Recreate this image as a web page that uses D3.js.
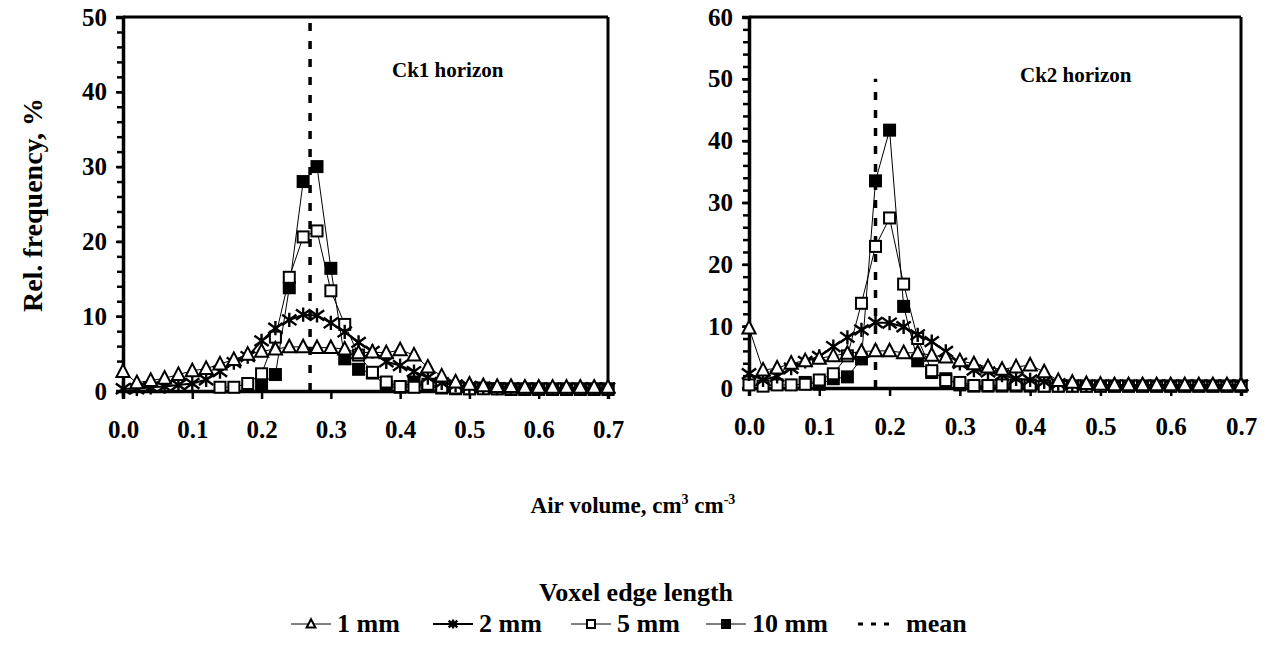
<!DOCTYPE html>
<html>
<head>
<meta charset="utf-8">
<script src="https://cdn.jsdelivr.net/npm/d3@7"></script>
<style>
  body { margin: 0; background: #fff; }
  svg text { font-family: "Liberation Serif", "Times New Roman", serif; font-weight: bold; fill: #000; }
</style>
</head>
<body>
<svg id="chart" width="1267" height="645"></svg>
<script>
// air volume classes (cm3 cm-3)
var airVolume = [0.00,0.02,0.04,0.06,0.08,0.10,0.12,0.14,0.16,0.18,0.20,0.22,0.24,0.26,0.28,0.30,0.32,0.34,
                 0.36,0.38,0.40,0.42,0.44,0.46,0.48,0.50,0.52,0.54,0.56,0.58,0.60,0.62,0.64,0.66,0.68,0.70];
var xTicks = [0.0,0.1,0.2,0.3,0.4,0.5,0.6,0.7];

// Ck1 horizon, rel. frequency %
var ck1_1mm = [2.6,1.1,1.4,1.7,2.2,2.7,3.0,3.6,4.2,4.9,5.3,5.6,5.9,5.9,5.8,5.8,5.6,5.1,
               5.2,5.1,5.5,4.8,3.2,2.0,1.2,0.9,0.7,0.6,0.6,0.5,0.5,0.5,0.5,0.5,0.5,0.5];
var ck1_2mm = [0.3,0.3,0.5,0.6,0.8,1.0,1.5,2.6,3.8,4.6,6.7,8.4,9.5,10.2,10.1,9.1,7.9,6.5,
               5.3,3.9,3.4,2.6,1.8,1.1,0.8,0.6,0.5,0.4,0.4,0.4,0.4,0.4,0.4,0.4,0.4,0.4];
var ck1_5mm = [null,null,null,null,null,null,null,0.5,0.5,1.0,2.3,7.2,15.2,20.6,21.4,13.4,8.9,4.8,
               2.5,1.2,0.6,0.5,0.9,0.5,0.4,0.3,0.3,0.3,0.3,0.3,0.3,0.3,0.3,0.3,0.3,0.3];
var ck1_10mm = [null,null,null,null,null,null,null,null,null,null,1.0,2.2,13.8,28.0,30.0,16.4,4.3,2.9,
                2.4,0.6,0.5,1.2,0.6,0.4,0.3,0.3,0.4,0.3,0.2,0.2,0.2,0.2,0.2,0.2,0.2,0.2];
var ck1_mean = 0.27;

// Ck2 horizon, rel. frequency %
var ck2_1mm = [9.7,2.9,3.2,4.0,4.4,4.8,5.2,5.6,5.9,6.0,6.0,5.7,5.7,5.3,5.0,4.4,3.9,3.4,
               3.0,3.4,3.7,2.6,1.2,0.9,0.7,0.6,0.5,0.5,0.5,0.5,0.5,0.5,0.5,0.5,0.5,0.5];
var ck2_2mm = [2.3,1.3,1.9,3.2,4.3,5.1,6.7,8.2,9.4,10.6,10.5,9.9,8.6,7.5,5.9,4.0,2.9,2.6,
               2.1,1.5,1.3,1.0,0.7,0.5,0.5,0.5,0.5,0.5,0.5,0.5,0.5,0.5,0.5,0.5,0.5,0.5];
var ck2_5mm = [0.5,0.3,0.5,0.5,0.6,1.3,2.3,5.2,13.7,22.9,27.5,16.8,8.0,2.8,1.2,0.9,0.4,0.4,
               0.5,0.5,0.5,0.3,0.3,0.3,0.3,0.3,0.3,0.3,0.3,0.3,0.3,0.3,0.3,0.3,0.3,0.3];
var ck2_10mm = [null,null,null,null,0.9,0.6,1.5,1.8,4.7,33.5,41.7,13.2,4.4,2.5,1.5,0.5,0.3,0.3,
                0.3,0.3,0.3,0.3,0.3,0.3,0.3,0.3,0.3,0.3,0.3,0.3,0.3,0.3,0.3,0.3,0.3,0.3];
var ck2_mean = 0.18;

var legendLabels = ["1 mm", "2 mm", "5 mm", "10 mm", "mean"];

var svg = d3.select("#chart");
var FONT = '"Liberation Serif", "Times New Roman", serif';

// marker drawing
function drawMarker(g, kind, s) {
  if (kind == "tri") {
    g.append("path")
      .attr("d", "M0," + (-s*0.6) + "L" + (s*0.55) + "," + (s*0.45) + "L" + (-s*0.55) + "," + (s*0.45) + "Z")
      .attr("fill", "#fff").attr("stroke", "#000").attr("stroke-width", 2);
  } else if (kind == "star") {
    g.append("path")
      .attr("d", "M0," + (-s*0.55) + "V" + (s*0.55) +
                 "M" + (-s*0.55) + "," + (-s*0.4) + "L" + (s*0.55) + "," + (s*0.4) +
                 "M" + (-s*0.55) + "," + (s*0.4) + "L" + (s*0.55) + "," + (-s*0.4))
      .attr("fill", "none").attr("stroke", "#000").attr("stroke-width", 2.4);
  } else {
    g.append("rect")
      .attr("x", -s/2).attr("y", -s/2).attr("width", s).attr("height", s)
      .attr("fill", kind == "open" ? "#fff" : "#000")
      .attr("stroke", "#000").attr("stroke-width", 2);
  }
}

function panel(xRange, yRange, yMax, yTicks, series, meanX, title, titlePos) {
  var x = d3.scaleLinear().domain([0, 0.7]).range(xRange);
  var y = d3.scaleLinear().domain([0, yMax]).range(yRange);
  var g = svg.append("g");

  // box
  g.append("line").attr("x1", xRange[0]).attr("x2", xRange[1]).attr("y1", yRange[1]).attr("y2", yRange[1])
    .attr("stroke", "#000").attr("stroke-width", 3);
  g.append("line").attr("x1", xRange[1]).attr("x2", xRange[1]).attr("y1", yRange[0]).attr("y2", yRange[1])
    .attr("stroke", "#000").attr("stroke-width", 3);

  // y axis with minor ticks
  var yMinor = g.append("g").attr("transform", "translate(" + xRange[0] + ",0)")
    .call(d3.axisLeft(y).tickValues(d3.range(0, yMax + 0.1, 2)).tickSize(6).tickFormat(""));
  yMinor.selectAll("line").attr("stroke-width", 2.5);
  yMinor.select(".domain").remove();
  var yAx = g.append("g").attr("transform", "translate(" + xRange[0] + ",0)")
    .call(d3.axisLeft(y).tickValues(yTicks).tickSize(7).tickPadding(9));
  yAx.attr("font-family", FONT).attr("font-size", 25);
  yAx.selectAll("line").attr("stroke-width", 2.5);
  yAx.select(".domain").attr("stroke-width", 3.5);

  // x axis
  var xAx = g.append("g").attr("transform", "translate(0," + yRange[0] + ")")
    .call(d3.axisBottom(x).tickValues(xTicks).tickSize(8).tickPadding(21).tickFormat(d3.format(".1f")));
  xAx.attr("font-family", FONT).attr("font-size", 25);
  xAx.selectAll("line").attr("stroke-width", 2.5);
  xAx.select(".domain").attr("stroke-width", 3.5);

  // mean line
  g.append("line")
    .attr("x1", x(meanX)).attr("x2", x(meanX)).attr("y1", y(0)).attr("y2", y(50))
    .attr("stroke", "#000").attr("stroke-width", 3.5).attr("stroke-dasharray", "8,10");

  // series
  series.forEach(function(s) {
    var pts = airVolume.map(function(v, i) { return {x: v, y: s.values[i]}; })
      .filter(function(d) { return d.y != null; });
    var line = d3.line().x(function(d) { return x(d.x); }).y(function(d) { return y(d.y); });
    g.append("path").datum(pts).attr("d", line)
      .attr("fill", "none").attr("stroke", "#000").attr("stroke-width", s.lw);
    pts.forEach(function(d) {
      var m = g.append("g").attr("transform", "translate(" + x(d.x) + "," + y(d.y) + ")");
      drawMarker(m, s.kind, s.size);
    });
  });

  g.append("text").attr("x", titlePos[0]).attr("y", titlePos[1])
    .style("font-size", "21px").text(title);
}

panel([123, 608], [391, 17], 50, [0,10,20,30,40,50],
  [{values: ck1_10mm, kind: "fill", size: 11, lw: 1},
   {values: ck1_5mm, kind: "open", size: 11, lw: 1},
   {values: ck1_2mm, kind: "star", size: 13, lw: 2},
   {values: ck1_1mm, kind: "tri", size: 12, lw: 1}],
  ck1_mean, "Ck1 horizon", [392, 77]);

panel([749, 1241], [388, 17], 60, [0,10,20,30,40,50,60],
  [{values: ck2_10mm, kind: "fill", size: 11, lw: 1},
   {values: ck2_5mm, kind: "open", size: 11, lw: 1},
   {values: ck2_2mm, kind: "star", size: 13, lw: 2},
   {values: ck2_1mm, kind: "tri", size: 12, lw: 1}],
  ck2_mean, "Ck2 horizon", [1020, 82]);

// axis titles
svg.append("text")
  .attr("transform", "translate(42,205) rotate(-90)")
  .attr("text-anchor", "middle").style("font-size", "28px")
  .text("Rel. frequency, %");

var xt = svg.append("text").attr("x", 633).attr("y", 513)
  .attr("text-anchor", "middle").style("font-size", "23px");
xt.append("tspan").text("Air volume, cm");
xt.append("tspan").attr("dy", -9).style("font-size", "14px").text("3");
xt.append("tspan").attr("dy", 9).text(" cm");
xt.append("tspan").attr("dy", -9).style("font-size", "14px").text("-3");

// legend
svg.append("text").attr("x", 636).attr("y", 601).attr("text-anchor", "middle")
  .style("font-size", "26px").text("Voxel edge length");

var legendKinds = ["tri", "star", "open", "fill", "mean"];
var legendX = [291, 433, 571, 706, 858];
legendKinds.forEach(function(k, i) {
  var lg = svg.append("g").attr("transform", "translate(" + legendX[i] + ",632)");
  if (k == "mean") {
    lg.append("line").attr("x1", 0).attr("x2", 36).attr("y1", -8).attr("y2", -8)
      .attr("stroke", "#000").attr("stroke-width", 3).attr("stroke-dasharray", "5,8");
    lg.append("text").attr("x", 48).attr("y", 0).style("font-size", "26px").text(legendLabels[i]);
  } else {
    lg.append("line").attr("x1", 0).attr("x2", 40).attr("y1", -8).attr("y2", -8)
      .attr("stroke", "#000").attr("stroke-width", k == "star" ? 2 : 1);
    var m = lg.append("g").attr("transform", "translate(20,-8)");
    drawMarker(m, k, 8);
    lg.append("text").attr("x", 46).attr("y", 0).style("font-size", "26px").text(legendLabels[i]);
  }
});
</script>
</body>
</html>
